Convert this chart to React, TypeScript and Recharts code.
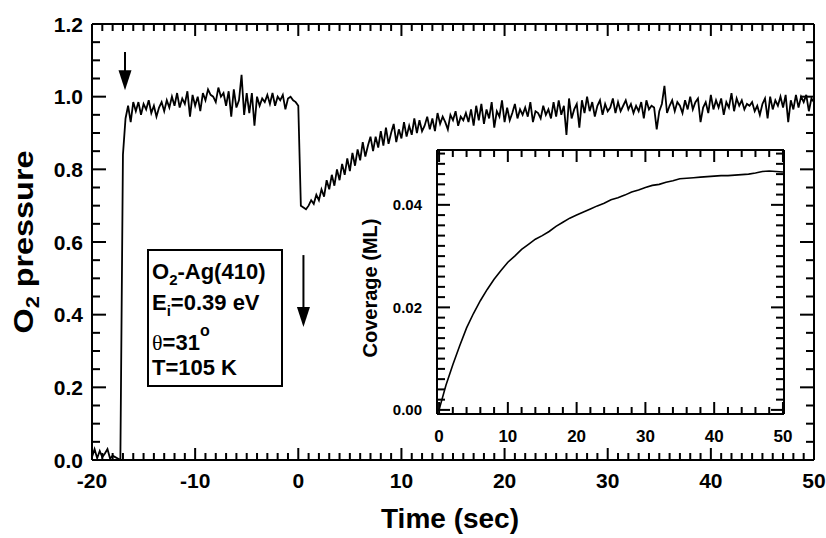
import React from "react";
import { LineChart, Line, XAxis, YAxis, ReferenceLine, CartesianGrid } from "recharts";

const FONT = '"Liberation Sans", Arial, Helvetica, sans-serif';

// O2 pressure trace, sampled every 0.25 s starting at -20 s
const T_START = -20;
const T_STEP = 0.25;

// -20 .. -17.25 s : beam blocked
const preDose = [0.008, 0.03, 0.005, 0.025, 0.008, 0.018, 0.03, 0.004, 0.012, 0.008, 0.004, 0.0];

// -17 .. 0 s : beam on, clean reflection
const plateau = [
  0.84, 0.94,
  0.975, 0.93, 0.985, 0.96, 0.985, 0.95, 0.98, 0.965, 0.99, 0.955, 0.975, 0.945,
  0.97, 0.985, 0.96, 0.99, 0.97, 1.0, 0.975, 1.01, 0.97, 0.995, 0.98, 1.015,
  0.945, 1.005, 0.975, 1.0, 0.96, 1.01, 0.99, 1.02, 1.005, 1.0, 0.985, 1.025,
  1.0, 1.01, 0.975, 1.015, 0.945, 1.02, 0.97, 0.99, 1.06, 0.95, 1.01, 0.955,
  1.01, 0.92, 1.0, 0.975, 0.995, 0.985, 1.005, 0.98, 1.01, 0.975, 1.0, 0.99,
  1.005, 0.965, 0.995, 1.0, 0.99, 0.985,
  0.975,
];

// 0.25 .. 50 s : sample exposed, uptake then recovery
const recovery = [
  0.70, 0.695, 0.69, 0.70,
  0.715, 0.705, 0.73, 0.715,
  0.745, 0.725, 0.77, 0.745,
  0.785, 0.755, 0.80, 0.77,
  0.815, 0.785, 0.83, 0.795,
  0.845, 0.81, 0.855, 0.825,
  0.875, 0.835, 0.865, 0.89,
  0.85, 0.89, 0.86, 0.905,
  0.865, 0.915, 0.87, 0.9,
  0.925, 0.875, 0.91, 0.885,
  0.93, 0.89, 0.92, 0.895,
  0.94, 0.9, 0.935, 0.905,
  0.92, 0.945, 0.91, 0.94,
  0.905, 0.955, 0.925, 0.945,
  0.93, 0.91, 0.95, 0.935,
  0.96, 0.92, 0.945, 0.935,
  0.955, 0.93, 0.965, 0.92,
  0.975, 0.935, 0.98, 0.925,
  0.965, 0.94, 0.985, 0.915,
  0.96, 0.945, 0.99, 0.93,
  0.97, 0.935, 0.955, 0.98,
  0.94, 0.965, 0.95, 0.97,
  0.945, 0.985, 0.93, 0.96,
  0.955, 0.94, 0.975, 0.95,
  0.965, 0.94, 0.985, 0.945,
  0.99, 0.95, 0.975, 0.895,
  0.995, 0.94, 0.965, 0.98,
  0.915, 0.99, 0.955, 1.0,
  0.96, 0.985, 0.945, 0.975,
  0.99, 0.95, 0.98, 0.96,
  0.97, 0.995, 0.955, 0.985,
  0.96, 0.975, 0.99, 0.965,
  0.98, 0.955, 0.975, 0.96,
  0.985, 0.94, 0.99, 0.965,
  0.975, 0.97, 0.91, 0.96,
  0.98, 1.03, 0.955, 0.975,
  0.99, 0.96, 0.985, 0.975,
  0.955, 0.99, 0.965, 1.0,
  0.965, 0.985, 0.995, 0.93,
  0.97, 0.985, 0.955, 1.005,
  0.965, 0.99, 0.97, 0.995,
  0.95, 0.985, 0.97, 1.01,
  0.96, 0.995, 0.975, 0.99,
  0.965, 0.98, 0.975, 0.985,
  0.96, 0.975, 0.95, 0.98,
  0.995, 0.94, 1.0, 0.965,
  0.99, 0.975, 1.0, 0.97,
  1.005, 0.93, 0.99, 0.965,
  1.005, 0.97, 1.0, 0.985,
  1.005, 0.96, 0.995, 0.985,
];

const pressure = [...preDose, ...plateau, ...recovery];
const mainData = pressure.map((p, i) => ({ t: T_START + i * T_STEP, p }));

// inset: O coverage (ML) every 1 s from 0 to 50 s
const coverage = [
  0.0, 0.0048, 0.0088, 0.0125, 0.016, 0.0188, 0.0213, 0.0235, 0.0255, 0.0272,
  0.0288, 0.03, 0.0313, 0.0323, 0.0333, 0.034, 0.0348, 0.0358, 0.0366, 0.0374,
  0.038, 0.0386, 0.0392, 0.0398, 0.0403, 0.041, 0.0414, 0.0419, 0.0425, 0.0429,
  0.0434, 0.0438, 0.044, 0.0444, 0.0447, 0.0451, 0.0452, 0.0453, 0.0454, 0.0455,
  0.0456, 0.0457, 0.0457, 0.0458, 0.0459, 0.046, 0.0462, 0.0465, 0.0466, 0.0465,
  0.0464,
];
const insetData = coverage.map((c, i) => ({ t: i, c }));

// axis ranges and ticks
const X_DOMAIN = [-20, 50];
const Y_DOMAIN = [0, 1.2];
const IN_X_DOMAIN = [-0.3, 50.15];
const IN_Y_DOMAIN = [-0.0008, 0.0507];

const xMajor = [-20, -10, 0, 10, 20, 30, 40, 50];
const xMinor = Array.from({ length: 71 }, (_, i) => i - 20);
const yMajor = [0, 0.2, 0.4, 0.6, 0.8, 1.0, 1.2];
const yMinor = Array.from({ length: 25 }, (_, i) => Math.round(i * 5) / 100);
const inXMajor = [0, 10, 20, 30, 40, 50];
const inXMinor = Array.from({ length: 26 }, (_, i) => i * 2);
const inYMajor = [0, 0.02, 0.04];
const inYMinor = Array.from({ length: 26 }, (_, i) => Math.round(i * 2) / 1000);

// plot boxes (px) – chart margins are derived from these
type Box = { left: number; top: number; width: number; height: number };
const MAIN_BOX: Box = { left: 92, top: 24, width: 722, height: 436 };
const IN_BOX: Box = { left: 437, top: 150, width: 347, height: 264 };
const Y_AXIS_W = 80;
const W = 826;
const H = 538;

const isIn = (v: number, list: number[]) => list.some((m) => Math.abs(m - v) < 1e-9);

type TickOpt = {
  majors: number[];
  major: number;
  minor: number;
  span: number; // px to the mirrored axis
  fontSize: number;
  gap: number;
  fmt: (v: number) => string;
};

// bottom axis tick: inward bar at bottom and mirrored at top, label on majors
const bottomTick = (o: TickOpt) => (p: any) => {
  const v = p.payload.value;
  const maj = isIn(v, o.majors);
  const len = maj ? o.major : o.minor;
  const x = Number(p.x);
  const y = Number(p.y);
  return (
    <g>
      <rect x={x - 1} y={y - len} width={2} height={len} fill="#000" />
      <rect x={x - 1} y={y - o.span} width={2} height={len} fill="#000" />
      {maj && (
        <text x={x} y={y + o.gap} textAnchor="middle" fontSize={o.fontSize} fontWeight="bold" fontFamily={FONT} fill="#000">
          {o.fmt(v)}
        </text>
      )}
    </g>
  );
};

// left axis tick: inward bar at left and mirrored at right, label on majors
const leftTick = (o: TickOpt) => (p: any) => {
  const v = p.payload.value;
  const maj = isIn(v, o.majors);
  const len = maj ? o.major : o.minor;
  const x = Number(p.x);
  const y = Number(p.y);
  return (
    <g>
      <rect x={x} y={y - 1} width={len} height={2} fill="#000" />
      <rect x={x + o.span - len} y={y - 1} width={len} height={2} fill="#000" />
      {maj && (
        <text x={x - o.gap} y={y + o.fontSize * 0.36} textAnchor="end" fontSize={o.fontSize} fontWeight="bold" fontFamily={FONT} fill="#000">
          {o.fmt(v)}
        </text>
      )}
    </g>
  );
};

const arrowShape = (p: any) => {
  const x = p.x1;
  const top = Math.min(p.y1, p.y2);
  const tip = Math.max(p.y1, p.y2);
  return (
    <g>
      <line x1={x} y1={top} x2={x} y2={tip - 16} stroke="#000" strokeWidth={2} />
      <polygon points={`${x - 6.5},${tip - 20} ${x + 6.5},${tip - 20} ${x},${tip}`} fill="#000" />
    </g>
  );
};

const axisLine = { stroke: "#000", strokeWidth: 2 };

const YTitle = (props: any) => {
  const vb = props.viewBox;
  const x = vb.x + 21;
  const y = vb.y + vb.height / 2;
  return (
    <text
      x={x}
      y={y}
      transform={`rotate(-90, ${x}, ${y})`}
      textAnchor="middle"
      fontSize={27}
      fontWeight="bold"
      fontFamily={FONT}
      fill="#000"
      textLength={183}
      lengthAdjust="spacingAndGlyphs"
    >
      O<tspan fontSize={18} dy={6}>2</tspan>
      <tspan dy={-6}> pressure</tspan>
    </text>
  );
};

const XTitle = (props: any) => {
  const vb = props.viewBox;
  return (
    <text x={vb.x + vb.width / 2 - 3} y={vb.y + 68} textAnchor="middle" fontSize={28} fontWeight="bold" fontFamily={FONT} fill="#000">
      Time (sec)
    </text>
  );
};

const CovTitle = (props: any) => {
  const vb = props.viewBox;
  const x = vb.x + 20;
  const y = vb.y + vb.height / 2 + 6;
  return (
    <text x={x} y={y} transform={`rotate(-90, ${x}, ${y})`} textAnchor="middle" fontSize={20} fontWeight="bold" fontFamily={FONT} fill="#000">
      Coverage (ML)
    </text>
  );
};

const marginFor = (box: Box, xAxisH: number) => ({
  top: box.top,
  left: box.left - Y_AXIS_W,
  right: W - box.left - box.width,
  bottom: H - box.top - box.height - xAxisH,
});

function MainChart() {
  return (
    <LineChart width={W} height={H} data={mainData} margin={marginFor(MAIN_BOX, 50)}>
      <XAxis
        xAxisId="b"
        dataKey="t"
        type="number"
        domain={X_DOMAIN}
        ticks={xMinor}
        interval={0}
        height={50}
        tickSize={0}
        tickMargin={0}
        tickLine={false}
        axisLine={axisLine}
        tick={bottomTick({ majors: xMajor, major: 12, minor: 7, span: MAIN_BOX.height, fontSize: 21, gap: 27.5, fmt: (v) => String(v) })}
        label={{ content: XTitle }}
      />
      <YAxis
        yAxisId="l"
        type="number"
        domain={Y_DOMAIN}
        allowDataOverflow
        ticks={yMinor}
        interval={0}
        width={Y_AXIS_W}
        tickSize={0}
        tickMargin={0}
        tickLine={false}
        axisLine={axisLine}
        tick={leftTick({ majors: yMajor, major: 14, minor: 8, span: MAIN_BOX.width, fontSize: 21, gap: 9, fmt: (v) => v.toFixed(1) })}
        label={{ content: YTitle }}
      />
      <ReferenceLine xAxisId="b" yAxisId="l" y={Y_DOMAIN[1]} stroke="#000" strokeWidth={2} />
      <ReferenceLine xAxisId="b" yAxisId="l" x={X_DOMAIN[1]} stroke="#000" strokeWidth={2} />
      <Line
        xAxisId="b"
        yAxisId="l"
        dataKey="p"
        type="linear"
        stroke="#000"
        strokeWidth={1.8}
        dot={false}
        isAnimationActive={false}
      />
      <ReferenceLine
        xAxisId="b"
        yAxisId="l"
        segment={[{ x: -16.8, y: 1.123 }, { x: -16.8, y: 1.018 }]}
        shape={arrowShape}
      />
      <ReferenceLine
        xAxisId="b"
        yAxisId="l"
        segment={[{ x: 0.5, y: 0.564 }, { x: 0.5, y: 0.366 }]}
        shape={arrowShape}
      />
    </LineChart>
  );
}

function InsetChart() {
  return (
    <LineChart width={W} height={H} data={insetData} margin={marginFor(IN_BOX, 40)}>
      <CartesianGrid xAxisId="b" yAxisId="l" fill="#fff" horizontal={false} vertical={false} />
      <XAxis
        xAxisId="b"
        dataKey="t"
        type="number"
        domain={IN_X_DOMAIN}
        ticks={inXMinor}
        interval={0}
        height={40}
        tickSize={0}
        tickMargin={0}
        tickLine={false}
        axisLine={axisLine}
        tick={bottomTick({ majors: inXMajor, major: 12, minor: 7, span: IN_BOX.height, fontSize: 17, gap: 28, fmt: (v) => String(v) })}
      />
      <YAxis
        yAxisId="l"
        type="number"
        domain={IN_Y_DOMAIN}
        ticks={inYMinor}
        interval={0}
        width={Y_AXIS_W}
        tickSize={0}
        tickMargin={0}
        tickLine={false}
        axisLine={axisLine}
        tick={leftTick({ majors: inYMajor, major: 13, minor: 8, span: IN_BOX.width, fontSize: 15, gap: 15, fmt: (v) => v.toFixed(2) })}
        label={{ content: CovTitle }}
      />
      <ReferenceLine xAxisId="b" yAxisId="l" y={IN_Y_DOMAIN[1]} stroke="#000" strokeWidth={2} />
      <ReferenceLine xAxisId="b" yAxisId="l" x={IN_X_DOMAIN[1]} stroke="#000" strokeWidth={2} />
      <Line
        xAxisId="b"
        yAxisId="l"
        dataKey="c"
        type="linear"
        stroke="#000"
        strokeWidth={1.6}
        dot={false}
        isAnimationActive={false}
      />
    </LineChart>
  );
}

function InfoBox() {
  const t = { fontFamily: FONT, fontWeight: "bold" as const, fontSize: 22, fill: "#000" };
  return (
    <svg width={W} height={H} style={{ position: "absolute", left: 0, top: 0, pointerEvents: "none" }}>
      <rect x={148} y={250} width={134} height={136} fill="#fff" stroke="#000" strokeWidth={2} />
      <text x={152} y={279} {...t}>
        O<tspan fontSize={15} dy={6}>2</tspan>
        <tspan dy={-6}>-Ag(410)</tspan>
      </text>
      <text x={152} y={310} {...t}>
        E<tspan fontSize={15} dy={6}>i</tspan>
        <tspan dy={-6}>=0.39 eV</tspan>
      </text>
      <text x={152} y={350} {...t}>
        <tspan fontFamily='"Liberation Serif", "Times New Roman", serif' fontWeight="normal">θ</tspan>
        =31
        <tspan fontSize={16} dy={-14}>o</tspan>
      </text>
      <text x={152} y={375} {...t}>
        T=105 K
      </text>
    </svg>
  );
}

export default function App() {
  return (
    <div style={{ position: "absolute", left: 0, top: 0, width: W, height: H, background: "#fff" }}>
      <div style={{ position: "absolute", left: 0, top: 0 }}>
        <MainChart />
      </div>
      <InfoBox />
      <div style={{ position: "absolute", left: 0, top: 0 }}>
        <InsetChart />
      </div>
    </div>
  );
}
